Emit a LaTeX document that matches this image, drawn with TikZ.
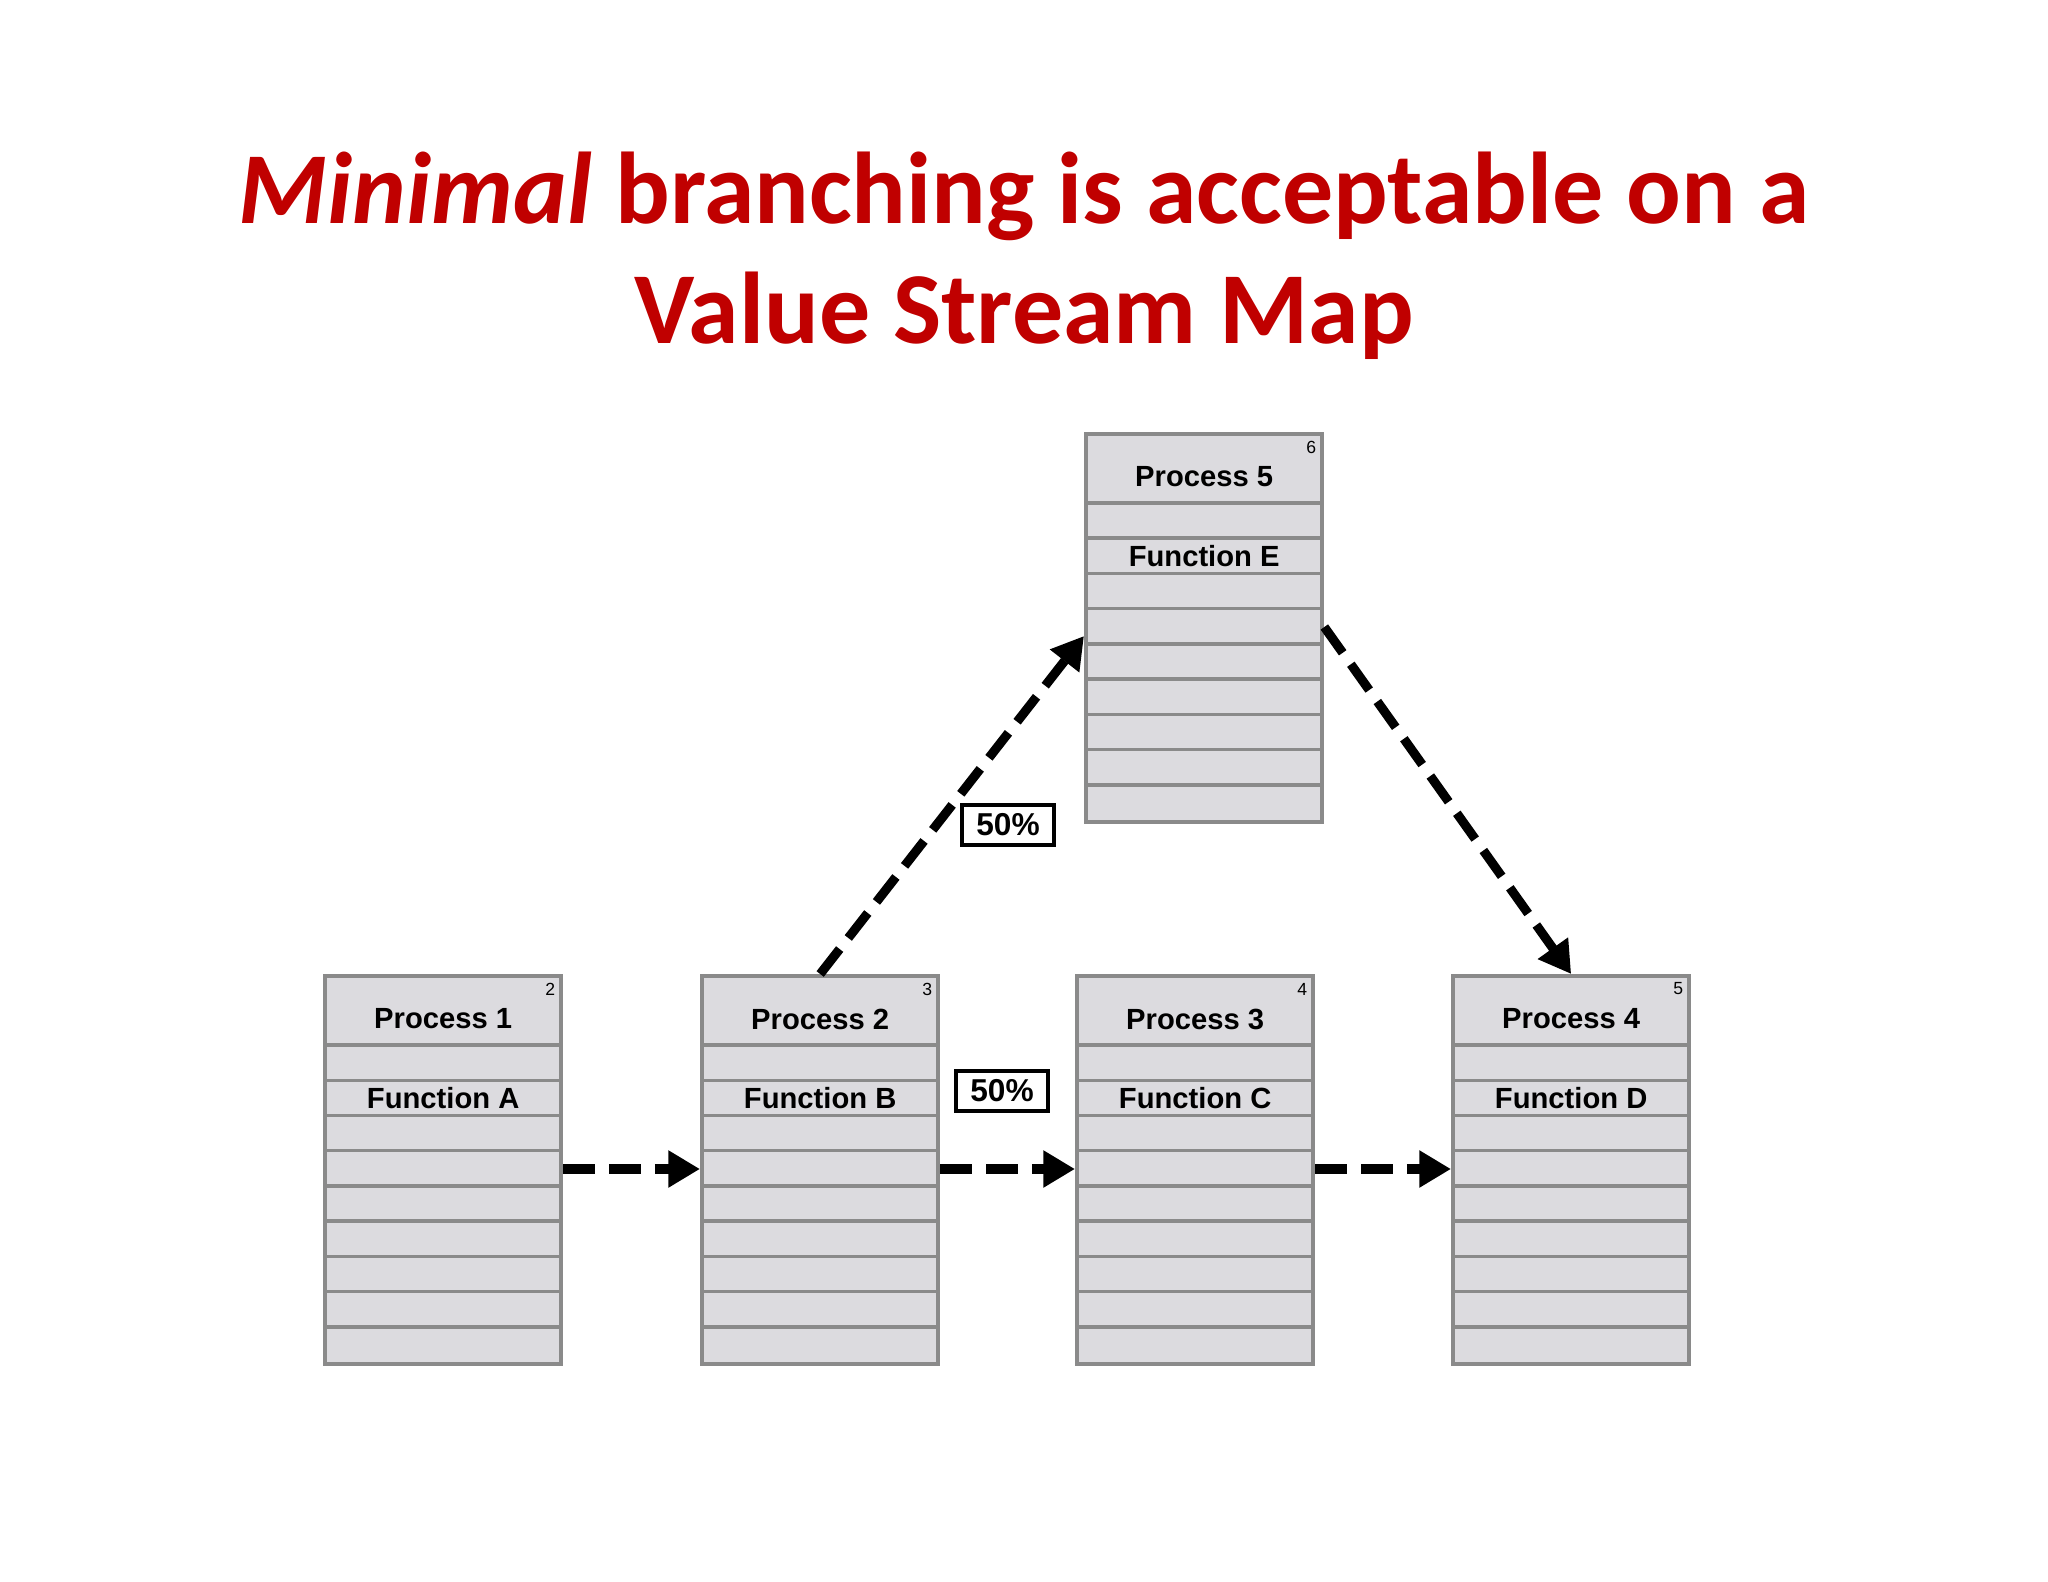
\documentclass[tikz,border=0pt]{standalone}
\usepackage{fontspec}
\setmainfont{Liberation Sans}
\newfontfamily\titlefont{Carlito}
\usetikzlibrary{arrows.meta}
\definecolor{ttl}{HTML}{C00000}
\definecolor{boxfill}{HTML}{DCDBDF}
\definecolor{boxline}{HTML}{8A8A8A}
\newlength{\pxu}\setlength{\pxu}{0.2845pt}
\tikzset{
  vsmbox/.style={draw=boxline,fill=boxfill,line width=1.2pt,minimum width=236\pxu,minimum height=388\pxu,inner sep=0pt},
  flow/.style={line width=2.6pt,dash pattern=on 9pt off 4pt,-{Triangle[length=9pt,width=10pt]}},
  pct/.style={draw,line width=1pt,fill=white,font=\bfseries\fontsize{9}{10}\selectfont,minimum width=92\pxu,minimum height=40\pxu,inner sep=0pt},
  btxt/.style={font=\bfseries\fontsize{8.3}{10}\selectfont,inner sep=0pt},
  ntxt/.style={font=\fontsize{5}{6}\selectfont,inner sep=0pt},
}
\begin{document}
\begin{tikzpicture}[x=0.01cm,y=-0.01cm]
\fill[white] (0,0) rectangle (2048,1582);
\useasboundingbox (0,0) rectangle (2048,1582);
\node[text=ttl,font=\titlefont\bfseries\fontsize{29}{34}\selectfont,align=center] (title) at (1024,256)
  {\textit{Minimal} branching is acceptable on a\\Value Stream Map};
% boxes
\foreach \n/\x/\yt/\p/\f/\num in {b1/323/974/Process 1/Function A/2, b2/700/974/Process 2/Function B/3, b3/1075/974/Process 3/Function C/4, b4/1451/974/Process 4/Function D/5, b5/1084/432/Process 5/Function E/6}{
  \node[vsmbox,anchor=north west] (\n) at (\x,\yt) {};
  \foreach \i in {0,...,8}{
    \draw[boxline,line width=1pt] ([yshift=-(71+35.2*\i)*\pxu]\n.north west) -- ([yshift=-(71+35.2*\i)*\pxu]\n.north east);
  }
  \node[btxt] (\n p) at ([yshift=-45*\pxu]\n.north) {\p};
  \node[btxt] (\n f) at ([yshift=-124*\pxu]\n.north) {\f};
  \node[ntxt] (\n n) at ([xshift=-13*\pxu,yshift=-15*\pxu]\n.north east) {\num};
}
% arrows
\coordinate (h1) at (559,1169);
\draw[flow] (b1.east |- h1) -- (b2.west |- h1);
\draw[flow] (b2.east |- h1) -- (b3.west |- h1);
\draw[flow] (b3.east |- h1) -- (b4.west |- h1);
\coordinate (u1) at (1084,636);
\coordinate (d1) at (1319,627);
\draw[flow] (b2.north) -- (b5.west |- u1);
\draw[flow] (b5.east |- d1) -- (b4.north);
\node[pct] (p1) at (1008,825) {50\%};
\node[pct] (p2) at (1002,1091) {50\%};
\end{tikzpicture}
\end{document}
